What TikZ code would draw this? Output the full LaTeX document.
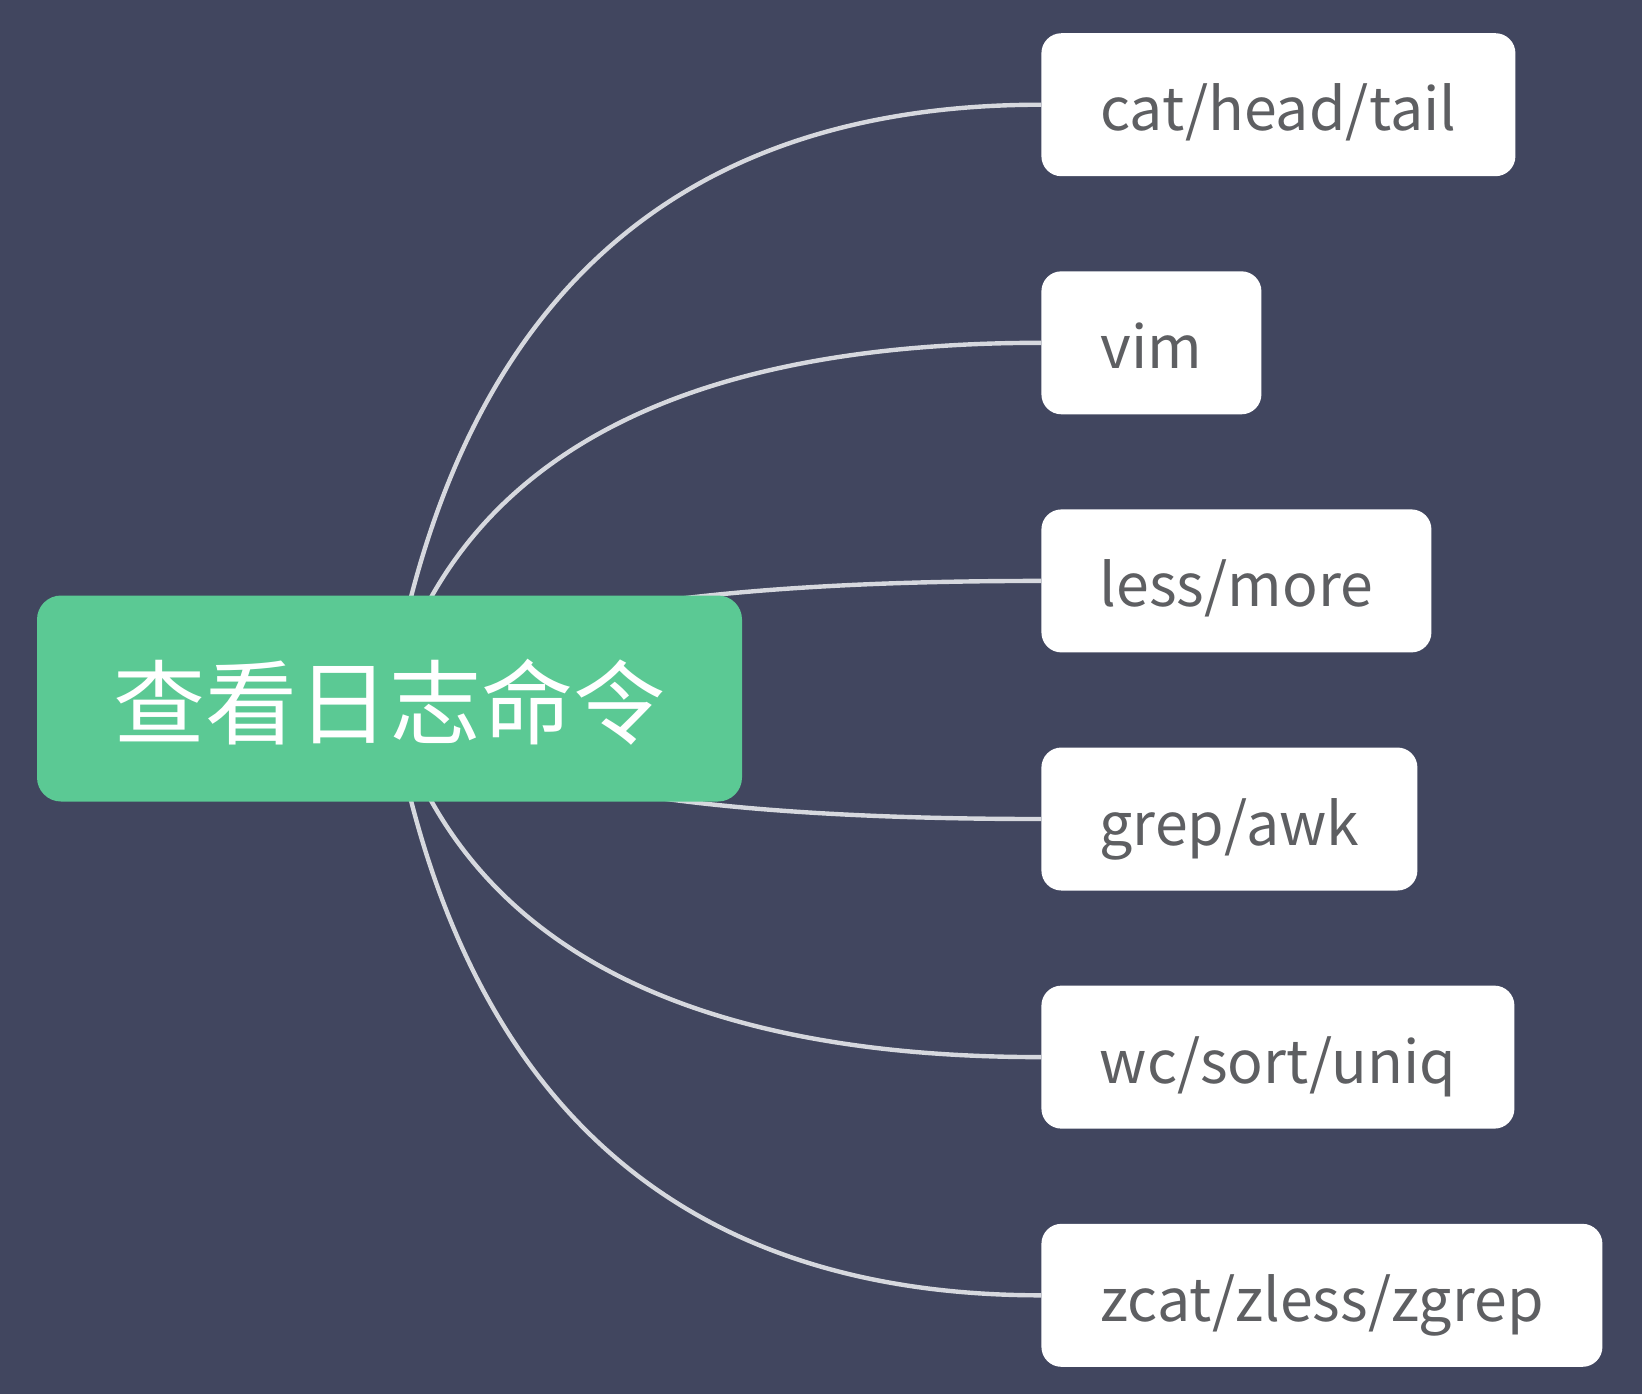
\documentclass[tikz,border=0pt]{standalone}
\usepackage{fontspec}
\setmainfont{Noto Sans CJK SC}
\usetikzlibrary{calc}
\definecolor{bgc}{HTML}{41465F}
\definecolor{rootc}{HTML}{5BC994}
\definecolor{linec}{HTML}{D6D8DE}
\definecolor{txtc}{HTML}{5E5F62}
\pgfdeclarelayer{bglayer}
\pgfdeclarelayer{linelayer}
\pgfsetlayers{bglayer,linelayer,main}
\begin{document}
\begin{tikzpicture}[x=0.5pt,y=-0.5pt,
  rootbox/.style={fill=rootc, rounded corners=12pt, minimum width=352.5pt, minimum height=103pt, inner sep=0pt, text height=44pt, text depth=5pt, text=white, font=\fontsize{46}{50}\selectfont},
  leaf/.style={fill=white, rounded corners=10pt, minimum height=71.5pt, inner sep=0pt, text height=30pt, text depth=4pt, text=txtc, font=\fontsize{29.5}{36}\selectfont, anchor=west},
  link/.style={draw=linec, line width=2.2pt}]
\useasboundingbox (0,0) rectangle (1642,1394);
\begin{pgfonlayer}{bglayer}
\fill[bgc] (0,0) rectangle (1642,1394);
\end{pgfonlayer}
\node[rootbox] (root) at (389.5,698.5) {查看日志命令};
\node[leaf, minimum width=237pt] (a) at (1041,104.7) {cat/head/tail};
\node[leaf, minimum width=110pt] (b) at (1041,342.8) {vim};
\node[leaf, minimum width=195pt] (c) at (1041,580.9) {less/more};
\node[leaf, minimum width=188pt] (d) at (1041,819.0) {grep/awk};
\node[leaf, minimum width=236.5pt] (e) at (1041,1057.1) {wc/sort/uniq};
\node[leaf, minimum width=280.5pt] (f) at (1041,1295.3) {zcat/zless/zgrep};
\begin{pgfonlayer}{linelayer}
\coordinate (qx) at ($(root.center)+(100,0)$);
\foreach \n in {a,b,c,d,e,f}{
  \coordinate (q) at (qx |- \n.west);
  \draw[link] (root.center) .. controls ($(root.center)!0.6667!(q)$) and ($(\n.west)!0.6667!(q)$) .. (\n.west);
}
\end{pgfonlayer}
\end{tikzpicture}
\end{document}
